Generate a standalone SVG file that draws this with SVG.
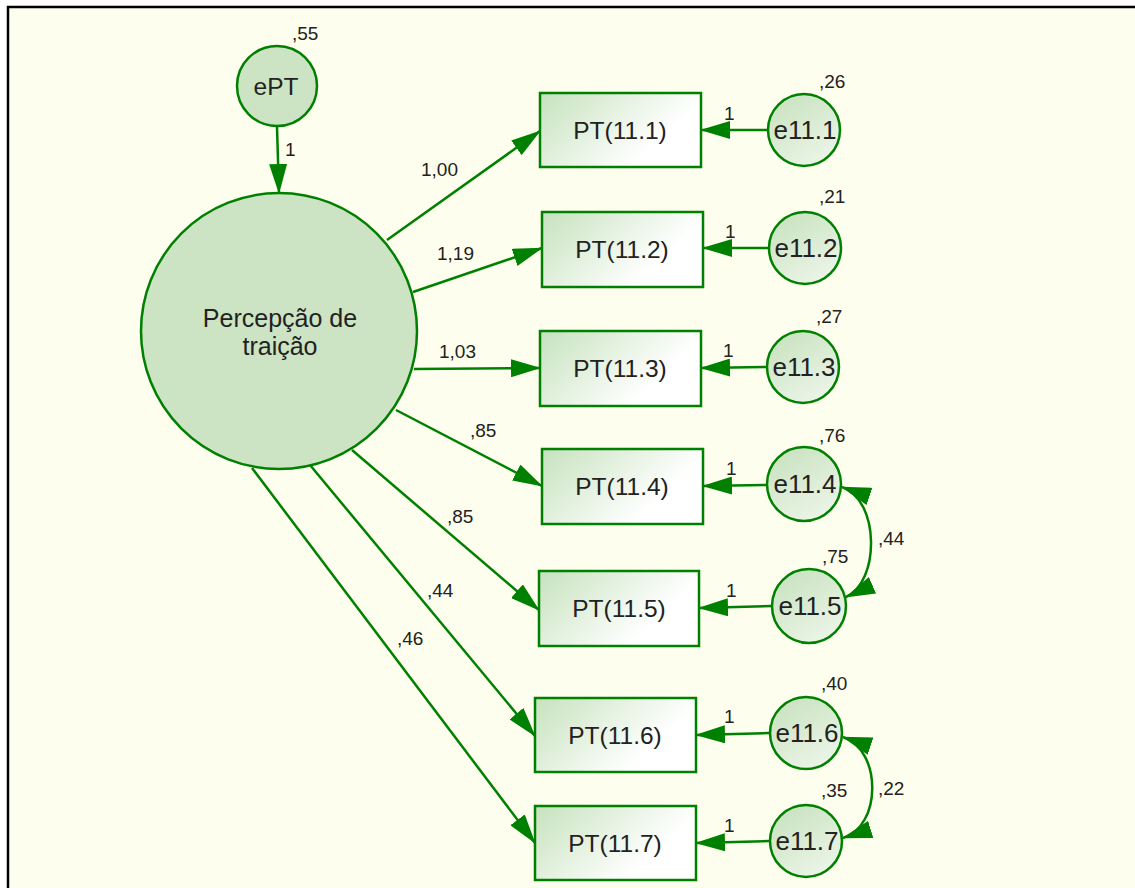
<svg xmlns="http://www.w3.org/2000/svg" width="1135" height="888" viewBox="0 0 1135 888">
  <defs>
    <marker id="arrow" markerUnits="userSpaceOnUse" markerWidth="30" markerHeight="18" refX="29" refY="9" orient="auto-start-reverse" viewBox="0 0 30 18">
      <path d="M0,0 L30,9 L0,18 Z" fill="#008000"/>
    </marker>
    <linearGradient id="boxFill" x1="0" y1="0" x2="1" y2="0.5">
      <stop offset="0" stop-color="#c6e2bd"/>
      <stop offset="0.85" stop-color="#ffffff"/>
    </linearGradient>
    <linearGradient id="errFill" x1="0.2" y1="0" x2="0.8" y2="1">
      <stop offset="0" stop-color="#c8e2bf"/>
      <stop offset="1" stop-color="#eef6ea"/>
    </linearGradient>
  </defs>
  <style>
    .edge { stroke: #008000; stroke-width: 2.5; fill: none; marker-end: url(#arrow); }
    .cov { stroke: #008000; stroke-width: 2.5; fill: none; marker-start: url(#arrow); marker-end: url(#arrow); }
    .box { fill: url(#boxFill); stroke: #008000; stroke-width: 2.5; }
    .err { fill: url(#errFill); stroke: #008000; stroke-width: 2.5; }
    .lat { fill: #cce4c3; stroke: #008000; stroke-width: 2.5; }
    .lbl { font-family: "Liberation Sans", Arial, sans-serif; font-size: 24.5px; fill: #222; text-anchor: middle; }
    .elbl { font-family: "Liberation Sans", Arial, sans-serif; font-size: 26px; fill: #222; text-anchor: middle; }
    .big { font-family: "Liberation Sans", Arial, sans-serif; font-size: 25px; fill: #222; text-anchor: middle; }
    .num { font-family: "Liberation Sans", Arial, sans-serif; font-size: 19px; fill: #222; }
  </style>

  <!-- canvas and frame -->
  <rect x="0" y="0" width="1135" height="888" fill="#ffffff"/>
  <rect x="8" y="7" width="1200" height="1000" fill="#fefeee" stroke="#000" stroke-width="2.5"/>

  <!-- connectors -->
  <g id="connectors">
    <line class="edge" x1="277" y1="127" x2="279" y2="193"/>
    <line class="edge" x1="387" y1="240" x2="540" y2="131"/>
    <line class="edge" x1="413" y1="292" x2="542" y2="248"/>
    <line class="edge" x1="414" y1="369" x2="540" y2="368"/>
    <line class="edge" x1="396" y1="410" x2="542" y2="486"/>
    <line class="edge" x1="352" y1="450" x2="539" y2="610"/>
    <line class="edge" x1="310" y1="465" x2="535" y2="736"/>
    <line class="edge" x1="252" y1="468" x2="535" y2="843"/>

    <line class="edge" x1="768" y1="130" x2="701" y2="130"/>
    <line class="edge" x1="769" y1="248" x2="703" y2="248"/>
    <line class="edge" x1="767" y1="367" x2="701" y2="368"/>
    <line class="edge" x1="767" y1="485" x2="703" y2="486"/>
    <line class="edge" x1="772" y1="606" x2="699" y2="608"/>
    <line class="edge" x1="769" y1="733" x2="696" y2="735"/>
    <line class="edge" x1="769" y1="841" x2="696" y2="843"/>

    <path class="cov" d="M842,487 C880,500 880,582 846,597"/>
    <path class="cov" d="M843,737 C882,750 882,826 843,838"/>
  </g>

  <!-- path labels -->
  <g id="path-labels" class="num">
    <text x="285" y="156">1</text>
    <text x="421" y="176">1,00</text>
    <text x="437" y="260">1,19</text>
    <text x="439" y="358">1,03</text>
    <text x="470" y="437">,85</text>
    <text x="447" y="523">,85</text>
    <text x="427" y="597">,44</text>
    <text x="397" y="645">,46</text>
    <text x="724" y="120">1</text>
    <text x="725" y="238">1</text>
    <text x="723" y="357">1</text>
    <text x="726" y="475">1</text>
    <text x="726" y="597">1</text>
    <text x="724" y="723">1</text>
    <text x="724" y="832">1</text>
    <text x="878" y="545">,44</text>
    <text x="878" y="795">,22</text>
  </g>

  <!-- latent factor and its disturbance -->
  <g id="ePT">
    <circle class="lat" cx="277" cy="86" r="40"/>
    <text class="lbl" x="276" y="95">ePT</text>
    <text class="num" x="292" y="40">,55</text>
  </g>
  <g id="PT">
    <circle class="lat" cx="279" cy="331" r="138"/>
    <text class="big" x="280" y="327">Percepção de</text>
    <text class="big" x="280" y="355">traição</text>
  </g>

  <!-- observed indicators -->
  <g id="PT11_1"><rect class="box" x="540" y="93" width="161" height="74"/><text class="lbl" x="620" y="139">PT(11.1)</text></g>
  <g id="PT11_2"><rect class="box" x="542" y="212" width="161" height="75"/><text class="lbl" x="622" y="258">PT(11.2)</text></g>
  <g id="PT11_3"><rect class="box" x="540" y="331" width="161" height="75"/><text class="lbl" x="620" y="377">PT(11.3)</text></g>
  <g id="PT11_4"><rect class="box" x="542" y="449" width="161" height="75"/><text class="lbl" x="622" y="495">PT(11.4)</text></g>
  <g id="PT11_5"><rect class="box" x="539" y="571" width="160" height="75"/><text class="lbl" x="619" y="617">PT(11.5)</text></g>
  <g id="PT11_6"><rect class="box" x="535" y="698" width="161" height="74"/><text class="lbl" x="615" y="744">PT(11.6)</text></g>
  <g id="PT11_7"><rect class="box" x="535" y="806" width="161" height="74"/><text class="lbl" x="615" y="852">PT(11.7)</text></g>

  <!-- measurement errors -->
  <g id="e11_1"><circle class="err" cx="804" cy="130" r="36"/><text class="elbl" x="805" y="139">e11.1</text><text class="num" x="819" y="88">,26</text></g>
  <g id="e11_2"><circle class="err" cx="805" cy="248" r="36"/><text class="elbl" x="806" y="257">e11.2</text><text class="num" x="819" y="203">,21</text></g>
  <g id="e11_3"><circle class="err" cx="803" cy="367" r="36"/><text class="elbl" x="804" y="376">e11.3</text><text class="num" x="816" y="323">,27</text></g>
  <g id="e11_4"><circle class="err" cx="804" cy="484" r="37"/><text class="elbl" x="805" y="493">e11.4</text><text class="num" x="819" y="442">,76</text></g>
  <g id="e11_5"><circle class="err" cx="809" cy="606" r="37"/><text class="elbl" x="810" y="615">e11.5</text><text class="num" x="822" y="563">,75</text></g>
  <g id="e11_6"><circle class="err" cx="806" cy="733" r="36"/><text class="elbl" x="807" y="742">e11.6</text><text class="num" x="821" y="690">,40</text></g>
  <g id="e11_7"><circle class="err" cx="806" cy="841" r="36"/><text class="elbl" x="807" y="850">e11.7</text><text class="num" x="821" y="797">,35</text></g>
</svg>
